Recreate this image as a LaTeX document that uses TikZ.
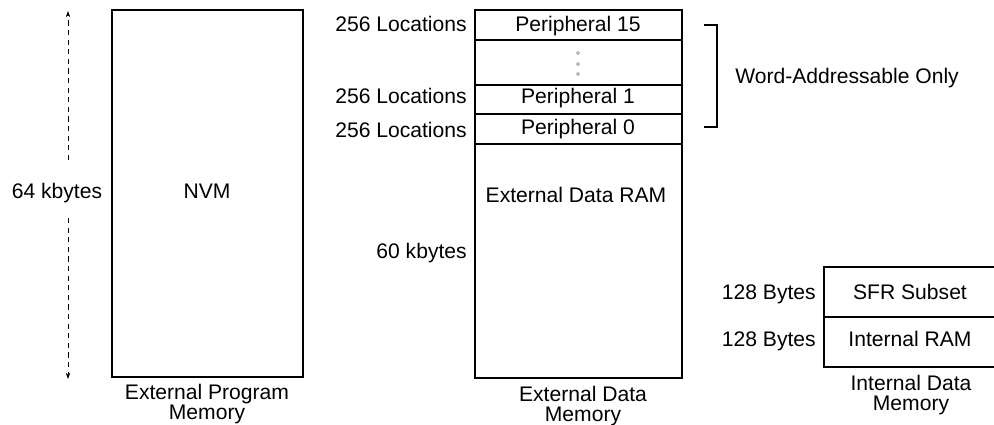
\documentclass[tikz,border=0pt]{standalone}
\usepackage{fontspec}
\setmainfont{Liberation Sans}
\usetikzlibrary{arrows.meta}
\begin{document}
\begin{tikzpicture}[x=0.025cm,y=-0.025cm,font=\fontsize{15}{14.2}\selectfont,
		membox/.style={line width=1.4pt},
		lbl/.style={inner sep=0pt,anchor=base},
		sizelbl/.style={inner sep=0pt,anchor=base east},
		caption/.style={inner sep=0pt,align=center,anchor=north},
		dimline/.style={line width=0.6pt,dash pattern=on 0.13cm off 0.11cm,-{Stealth[length=4.5pt,width=3.2pt]}}]
		\useasboundingbox (0,0) rectangle (994,425);
		\clip (0,0) rectangle (994,425);
		% program memory
		\draw[membox] (112,10) rectangle (303,377);
		\node[lbl] (nvm) at (207,199) {NVM};
		\node[caption] (progcap) at (207,384) {External Program\\Memory};
		\node[lbl] (size64) at (57,199) {64 kbytes};
		\coordinate (progtop) at (68,11);
		\coordinate (progbot) at (68,379);
		\coordinate (gapup) at (68,160);
		\coordinate (gapdn) at (68,218);
		\draw[dimline] (gapup) -- (progtop);
		\draw[dimline] (gapdn) -- (progbot);
		% external data memory
		\draw[membox] (475,10) rectangle (682,378);
		\foreach \y in {40,85,114,144}
			\draw[membox] (475,\y) -- (682,\y);
		\node[lbl] (per15) at (578,32) {Peripheral 15};
		\foreach \y in {53,64,74}
			\draw[gray,line width=0.4pt] (578,\y) circle (0.035cm);
		\node[lbl] (per1) at (578,104) {Peripheral 1};
		\node[lbl] (per0) at (578,135) {Peripheral 0};
		\node[lbl] (ram) at (576,203) {External Data RAM};
		\node[sizelbl] (loc15) at (467,32) {256 Locations};
		\node[sizelbl] (loc1) at (467,104) {256 Locations};
		\node[sizelbl] (loc0) at (467,138) {256 Locations};
		\node[sizelbl] (size60) at (467,259) {60 kbytes};
		\node[caption] (datacap) at (583,386) {External Data\\Memory};
		% word-addressable bracket
		\draw[membox] (704,25) -- (717,25) -- (717,127) -- (704,127);
		\node[lbl,anchor=base west] (wordonly) at (735,84) {Word-Addressable Only};
		% internal data memory
		\draw[membox] (824,267) rectangle (1010,367);
		\draw[membox] (824,317) -- (1010,317);
		\node[lbl] (sfr) at (910,300) {SFR Subset};
		\node[lbl] (iram) at (910,347) {Internal RAM};
		\node[sizelbl] (b128a) at (816,300) {128 Bytes};
		\node[sizelbl] (b128b) at (816,347) {128 Bytes};
		\node[caption] (intcap) at (911,375) {Internal Data\\Memory};
	\end{tikzpicture}
\end{document}
